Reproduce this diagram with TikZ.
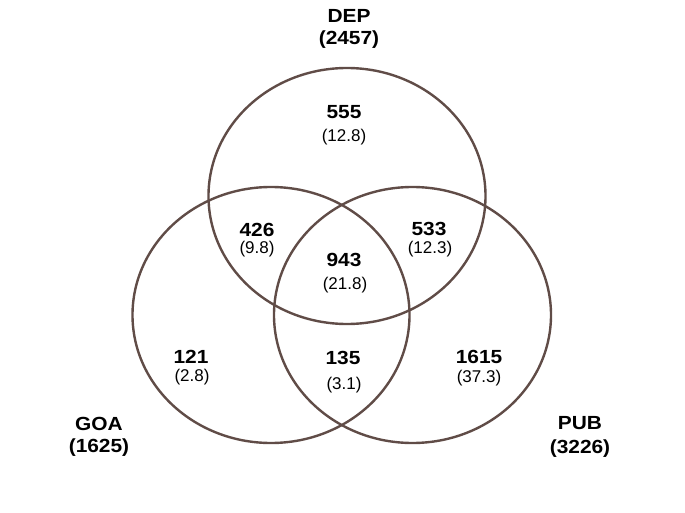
\documentclass[tikz,border=0pt]{standalone}
\usepackage{fontspec}
\setmainfont{Liberation Sans}
\newfontfamily\bnfont{Liberation Sans}[FakeStretch=1.1]
\definecolor{ringc}{RGB}{96,76,71}
\begin{document}
\begin{tikzpicture}[x=1pt,y=-1pt,
  ring/.style={draw=ringc,line width=2.4pt},
  big/.style={font=\bnfont\bfseries\fontsize{19}{21}\selectfont,inner sep=0pt},
  small/.style={font=\fontsize{17}{19}\selectfont,inner sep=0pt}]
\useasboundingbox (0,0) rectangle (685,513);
% sets
\draw[ring] (347,196) ellipse [x radius=138.5pt, y radius=128pt];
\draw[ring] (271,315) ellipse [x radius=138.5pt, y radius=128pt];
\draw[ring] (412.5,315) ellipse [x radius=138.5pt, y radius=128pt];
% set titles
\node[big] (dep) at (349,16) {DEP};
\node[big] (depn) at (349,40) {(2457)};
\node[big] (goa) at (99,424) {GOA};
\node[big] (goan) at (99,448) {(1625)};
\node[big] (pub) at (580,423) {PUB};
\node[big] (pubn) at (580,449) {(3226)};
% regions
\node[big] (a) at (344,112) {555};
\node[small] (ap) at (344,137) {(12.8)};
\node[big] (b) at (257,230) {426};
\node[small] (bp) at (257,249) {(9.8)};
\node[big] (c) at (429,229) {533};
\node[small] (cp) at (430,249) {(12.3)};
\node[big] (d) at (344,260) {943};
\node[small] (dp) at (345,285) {(21.8)};
\node[big] (e) at (191,357) {121};
\node[small] (ep) at (192,377) {(2.8)};
\node[big] (f) at (343,358) {135};
\node[small] (fp) at (344,385) {(3.1)};
\node[big] (g) at (479,357) {1615};
\node[small] (gp) at (479,378) {(37.3)};
\end{tikzpicture}
\end{document}
